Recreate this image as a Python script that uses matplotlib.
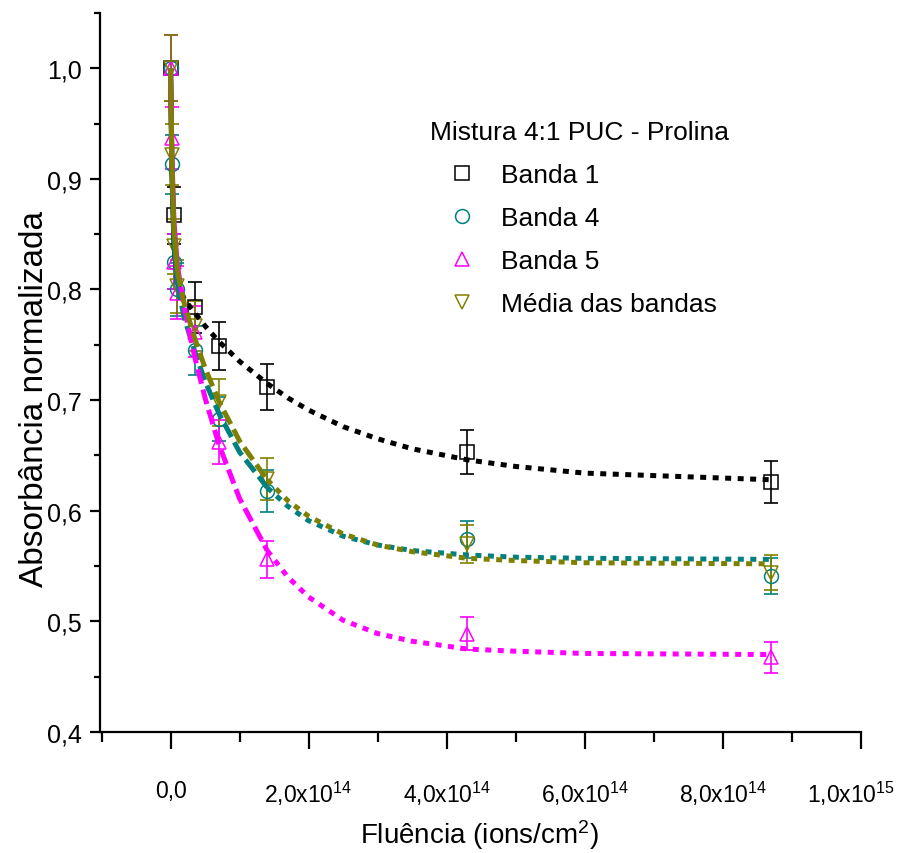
#!/usr/bin/env python3
"""Normalized absorbance vs fluence for the 4:1 PUC - Prolina mixture."""

import matplotlib
matplotlib.use("Agg")
import matplotlib.pyplot as plt
from matplotlib.ticker import FixedLocator, MultipleLocator
from matplotlib.transforms import ScaledTranslation

# measured points (fluence in ions/cm^2)
fluence = [0, 2e12, 5e12, 1e13, 3.5e13, 7e13, 1.4e14, 4.3e14, 8.7e14]

banda1_x = [0, 5e12, 3.5e13, 7e13, 1.4e14, 4.3e14, 8.7e14]
banda1 = [1.0, 0.867, 0.784, 0.749, 0.712, 0.653, 0.626]
banda1_err = [0.030, 0.026, 0.023, 0.022, 0.021, 0.020, 0.019]

banda4 = [1.0, 0.913, 0.825, 0.800, 0.745, 0.683, 0.618, 0.574, 0.541]
banda4_err = [0.030, 0.027, 0.025, 0.024, 0.022, 0.020, 0.019, 0.017, 0.016]

banda5 = [1.0, 0.937, 0.825, 0.797, 0.762, 0.662, 0.556, 0.489, 0.4675]
banda5_err = [0.030, 0.028, 0.025, 0.024, 0.023, 0.020, 0.017, 0.015, 0.014]

media = [1.0, 0.922, 0.839, 0.803, 0.767, 0.698, 0.629, 0.570, 0.544]
media_err = [0.030, 0.028, 0.025, 0.024, 0.023, 0.021, 0.019, 0.017, 0.016]

# fitted curves
fit_x = [0, 2e12, 5e12, 1e13, 2e13, 3.5e13, 5e13, 7e13, 1e14, 1.4e14,
         1.7e14, 2e14, 2.5e14, 3e14, 3.5e14, 4.3e14, 5e14, 6e14, 8.7e14]
fit_banda1 = [1.0, 0.905, 0.840, 0.807, 0.791, 0.779, 0.767, 0.753, 0.735,
              0.715, 0.702, 0.691, 0.676, 0.665, 0.656, 0.646, 0.640,
              0.634, 0.628]
fit_banda4 = [1.0, 0.908, 0.843, 0.804, 0.774, 0.744, 0.717, 0.688, 0.653,
              0.621, 0.604, 0.591, 0.577, 0.569, 0.564, 0.560, 0.558,
              0.557, 0.556]
fit_banda5 = [1.0, 0.920, 0.861, 0.821, 0.783, 0.739, 0.702, 0.660, 0.611,
              0.564, 0.540, 0.522, 0.501, 0.489, 0.482, 0.475, 0.473,
              0.471, 0.470]
fit_media = [1.0, 0.915, 0.854, 0.816, 0.787, 0.756, 0.729, 0.699, 0.663,
             0.628, 0.609, 0.595, 0.579, 0.569, 0.563, 0.557, 0.555,
             0.553, 0.552]

x_ticks = [0, 2e14, 4e14, 6e14, 8e14, 1e15]
x_tick_labels = ["0,0", r"2,0x10$^{14}$", r"4,0x10$^{14}$", r"6,0x10$^{14}$",
                 r"8,0x10$^{14}$", r"1,0x10$^{15}$"]
y_ticks = [0.4, 0.5, 0.6, 0.7, 0.8, 0.9, 1.0]
y_tick_labels = ["0,4", "0,5", "0,6", "0,7", "0,8", "0,9", "1,0"]

plt.rcParams["font.family"] = ["Liberation Sans", "DejaVu Sans"]
plt.rcParams["mathtext.fontset"] = "custom"
plt.rcParams["mathtext.rm"] = "Liberation Sans"
plt.rcParams["mathtext.it"] = "Liberation Sans"
plt.rcParams["mathtext.bf"] = "Liberation Sans"

BLACK = "#000000"
TEAL = "#008080"
MAGENTA = "#FF00FF"
OLIVE = "#808000"


def main():
    fig = plt.figure(figsize=(9.02, 8.54), dpi=100)
    ax = fig.add_axes([0.111, 0.1417, 0.8435, 0.842])

    series = [
        (banda1_x, banda1, banda1_err, "s", BLACK, "Banda 1"),
        (fluence, banda4, banda4_err, "o", TEAL, "Banda 4"),
        (fluence, banda5, banda5_err, "^", MAGENTA, "Banda 5"),
        (fluence, media, media_err, "v", OLIVE, "Média das bandas"),
    ]
    handles = []
    for xs, ys, err, mk, col, lbl in series:
        ax.errorbar(xs, ys, yerr=err, fmt="none", ecolor=col, elinewidth=1.2,
                    capsize=5, capthick=1.2, zorder=2)
        h, = ax.plot(xs, ys, ls="none", marker=mk, ms=10, mfc="none",
                     mec=col, mew=1.1, label=lbl, zorder=3)
        handles.append(h)

    fits = [(fit_banda1, BLACK, (1.2, 1.3)), (fit_banda4, TEAL, (3.0, 1.2)),
            (fit_banda5, MAGENTA, (3.0, 1.2)), (fit_media, OLIVE, (3.0, 1.2))]
    for ys, col, mid_dash in fits:
        # Origin spaces the dashes along x, so the steep start looks solid,
        # the middle looks dashed and the flat tail dotted
        ax.plot(fit_x[:4], ys[:4], color=col, lw=3.6, zorder=4,
                solid_capstyle="butt")
        ax.plot(fit_x[3:10], ys[3:10], color=col, lw=3.6, dashes=mid_dash,
                zorder=4)
        ax.plot(fit_x[9:], ys[9:], color=col, lw=3.6, dashes=(1.2, 1.3),
                zorder=4)

    ax.set_xlim(-1.02e14, 1.0e15)
    ax.set_ylim(0.4, 1.05)
    ax.xaxis.set_major_locator(FixedLocator(x_ticks))
    ax.set_xticklabels(x_tick_labels)
    ax.xaxis.set_minor_locator(MultipleLocator(1e14))
    ax.yaxis.set_major_locator(FixedLocator(y_ticks))
    ax.set_yticklabels(y_tick_labels)
    ax.yaxis.set_minor_locator(MultipleLocator(0.05))

    for side in ("top", "right"):
        ax.spines[side].set_visible(False)
    for side in ("left", "bottom"):
        ax.spines[side].set_linewidth(1.6)

    ax.tick_params(axis="x", which="major", direction="out", length=12,
                   width=1.6, labelsize=16.5, pad=22)
    ax.tick_params(axis="x", which="minor", direction="out", length=7, width=1.6)
    ax.tick_params(axis="y", which="major", direction="out", length=7,
                   width=1.6, labelsize=18, pad=6)
    ax.tick_params(axis="y", which="minor", direction="out", length=4, width=1.6)

    # keep the last x label inside the canvas
    last = ax.get_xticklabels()[-1]
    last.set_transform(last.get_transform()
                       + ScaledTranslation(-7 / 72, 0, fig.dpi_scale_trans))

    ax.set_xlabel(r"Fluência (ions/cm$^{2}$)", fontsize=20)
    ax.xaxis.set_label_coords(0.499, -0.119)
    ax.set_ylabel("Absorbância normalizada", fontsize=24)
    ax.yaxis.set_label_coords(-0.066, 0.465)

    leg = ax.legend(handles=handles, title="Mistura 4:1 PUC - Prolina",
                    loc="upper left", bbox_to_anchor=(0.42, 0.866),
                    frameon=False, fontsize=19, title_fontsize=19,
                    handlelength=2.4, handletextpad=0.3, labelspacing=0.72,
                    borderaxespad=0)
    leg._legend_box.align = "left"

    fig.savefig("out.png", dpi=100)
    plt.close(fig)


if __name__ == "__main__":
    main()
